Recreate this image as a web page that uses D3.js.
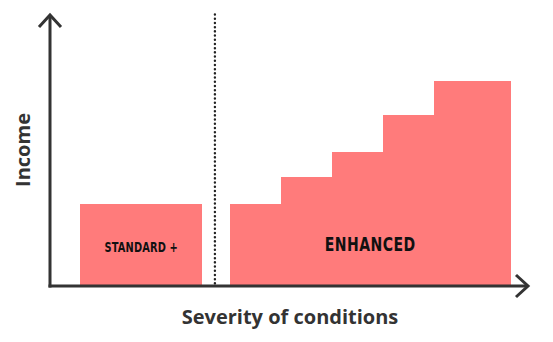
<!DOCTYPE html>
<html>
<head>
<meta charset="utf-8">
<script src="https://cdn.jsdelivr.net/npm/d3@7"></script>
<style>
  html, body { margin: 0; padding: 0; background: #fff; }
  svg { display: block; }
</style>
</head>
<body>
<svg id="chart" width="553" height="342"></svg>
<script>
// Benefit tiers: income level by severity of conditions
const tierNames = ["Standard +", "Enhanced 1", "Enhanced 2", "Enhanced 3", "Enhanced 4", "Enhanced 5"];
const tierStart = [0.63, 3.77, 4.83, 5.90, 6.97, 8.03];
const tierEnd   = [3.18, 4.83, 5.90, 6.97, 8.03, 9.64];
const tierIncome = [30.4, 30.4, 40.4, 49.6, 63.3, 76.0];
const dividerAt = 3.45;
const groupLabels = ["STANDARD +", "ENHANCED"];
const groupCentre = [1.91, 6.70];
const groupLabelIncome = [14.5, 15.5];
const axisTitles = ["Severity of conditions", "Income"];

const svg = d3.select("#chart");
const x = d3.scaleLinear().domain([0, 10]).range([50, 528]);
const y = d3.scaleLinear().domain([0, 100]).range([286, 16]);

const ink = "#333333";
const barColor = "#ff7b7b";

// bars
const tiers = tierNames.map((n, i) => ({ name: n, x0: tierStart[i], x1: tierEnd[i], v: tierIncome[i] }));
svg.append("g").attr("shape-rendering", "crispEdges")
  .selectAll("rect").data(tiers).join("rect")
  .attr("x", d => Math.round(x(d.x0)))
  .attr("width", d => Math.round(x(d.x1)) - Math.round(x(d.x0)))
  .attr("y", d => Math.round(y(d.v)))
  .attr("height", d => Math.round(y(0)) - Math.round(y(d.v)))
  .attr("fill", barColor);

// dotted divider between tiers
svg.append("line")
  .attr("x1", x(dividerAt)).attr("x2", x(dividerAt))
  .attr("y1", y(100) - 1.5).attr("y2", y(0))
  .attr("stroke", "#222").attr("stroke-width", 2.4)
  .attr("stroke-linecap", "round")
  .attr("stroke-dasharray", "0.1,4.1");

// axes with open arrowheads
const axes = svg.append("g").attr("fill", "none").attr("stroke", ink)
  .attr("stroke-width", 3).attr("stroke-linecap", "butt");
axes.append("line").attr("x1", x(0)).attr("x2", x(0)).attr("y1", y(100) - 1).attr("y2", y(0) + 1.5);
axes.append("line").attr("x1", x(0) - 1.5).attr("x2", x(10)).attr("y1", y(0)).attr("y2", y(0));
axes.append("path")
  .attr("d", `M${x(0) - 11},${y(100) + 11}L${x(0)},${y(100) - 1}L${x(0) + 11},${y(100) + 11}`);
axes.append("path")
  .attr("d", `M${x(10) - 12},${y(0) - 11}L${x(10)},${y(0)}L${x(10) - 12},${y(0) + 11}`);

// group labels inside bars, set in a narrowed bold face
const labelFont = "'DejaVu Sans Condensed', 'DejaVu Sans', sans-serif";
svg.append("g").selectAll("text").data(groupLabels).join("text")
  .attr("transform", (d, i) => `translate(${x(groupCentre[i])},${y(groupLabelIncome[i])}) scale(0.78,1)`)
  .attr("text-anchor", "middle")
  .attr("dominant-baseline", "central")
  .attr("font-family", labelFont)
  .attr("font-weight", "bold")
  .attr("font-size", (d, i) => i === 0 ? 14 : 20)
  .attr("letter-spacing", (d, i) => i === 0 ? 0.2 : 0.6)
  .attr("fill", "#111")
  .text(d => d);

// axis titles
svg.append("text")
  .attr("x", 290).attr("y", 324)
  .attr("text-anchor", "middle")
  .attr("font-family", "'Open Sans', sans-serif")
  .attr("font-weight", "700")
  .attr("font-size", 20)
  .attr("fill", ink)
  .text(axisTitles[0]);

svg.append("text")
  .attr("transform", "translate(30,150) rotate(-90)")
  .attr("text-anchor", "middle")
  .attr("font-family", "'Open Sans', sans-serif")
  .attr("font-weight", "700")
  .attr("font-size", 20)
  .attr("fill", ink)
  .text(axisTitles[1]);
</script>
</body>
</html>
